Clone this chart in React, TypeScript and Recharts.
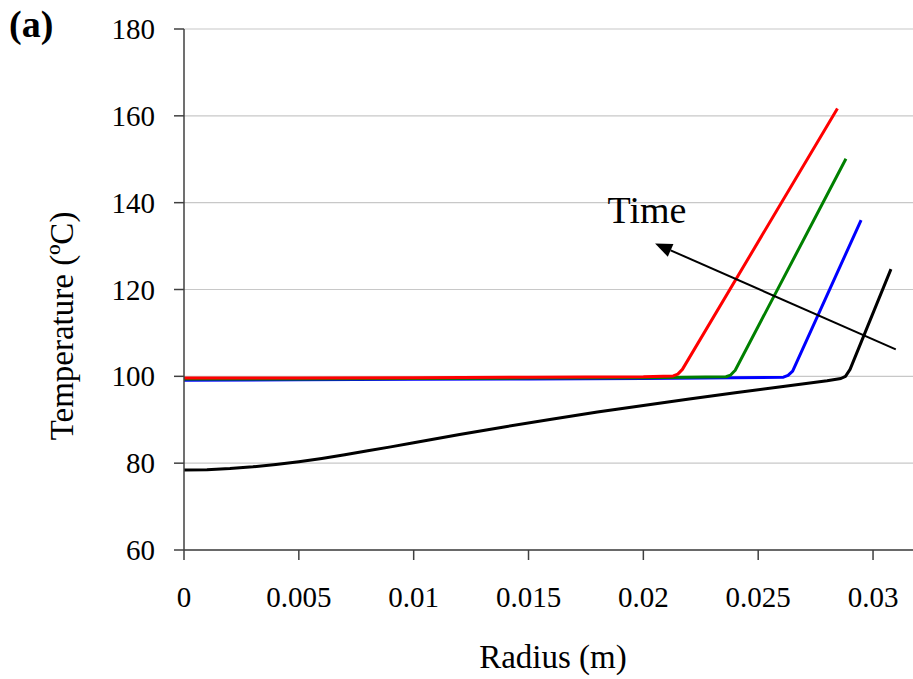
import { LineChart, Line, XAxis, YAxis, CartesianGrid, ReferenceLine, ReferenceDot } from 'recharts';

// radial temperature profiles at successive times (m, °C)
const RED_R = [0, 0.005, 0.01, 0.015, 0.02, 0.0213, 0.0215, 0.0217, 0.02845];
const RED_T = [99.6, 99.6, 99.7, 99.8, 99.9, 100.1, 100.5, 101.6, 161.7];

const GREEN_R = [0, 0.005, 0.01, 0.015, 0.02, 0.0236, 0.0238, 0.024, 0.02882];
const GREEN_T = [99.4, 99.4, 99.5, 99.6, 99.7, 99.9, 100.3, 101.4, 150.1];

const BLUE_R = [0, 0.005, 0.01, 0.015, 0.02, 0.0261, 0.0263, 0.0265, 0.02948];
const BLUE_T = [99.1, 99.2, 99.3, 99.4, 99.5, 99.8, 100.2, 101.2, 136.0];

const BLACK_R = [
  0, 0.001, 0.002, 0.003, 0.004, 0.005, 0.006, 0.007, 0.008, 0.009, 0.01, 0.012, 0.014, 0.016, 0.018, 0.02, 0.022,
  0.024, 0.026, 0.028, 0.0286, 0.0288, 0.029, 0.03078,
];
const BLACK_T = [
  78.4, 78.5, 78.75, 79.15, 79.7, 80.35, 81.1, 81.95, 82.85, 83.75, 84.7, 86.6, 88.4, 90.1, 91.8, 93.3, 94.8, 96.2,
  97.6, 99.0, 99.5, 100.0, 101.6, 124.7,
];

const X_TICKS = [0, 0.005, 0.01, 0.015, 0.02, 0.025, 0.03];
const Y_TICKS = [60, 80, 100, 120, 140, 160, 180];

// "Time" arrow, tail -> head
const ARROW_FROM = { x: 0.03099, y: 106.2 };
const ARROW_TO = { x: 0.02051, y: 130.6 };
const TIME_LABEL_AT = { x: 0.02016, y: 138.4 };

const FONT = 'Liberation Serif';

const toRows = (xs: number[], ys: number[]) => xs.map((r, i) => ({ r, t: ys[i] }));

const SERIES = [
  { key: 'black', color: '#000000', rows: toRows(BLACK_R, BLACK_T) },
  { key: 'blue', color: '#0000ff', rows: toRows(BLUE_R, BLUE_T) },
  { key: 'green', color: '#008000', rows: toRows(GREEN_R, GREEN_T) },
  { key: 'red', color: '#ff0000', rows: toRows(RED_R, RED_T) },
];

function ArrowShape(props: any) {
  const { x1, y1, x2, y2 } = props;
  const ang = Math.atan2(y2 - y1, x2 - x1);
  const len = 17;
  const half = 7;
  const bx = x2 - len * Math.cos(ang);
  const by = y2 - len * Math.sin(ang);
  const ox = -Math.sin(ang) * half;
  const oy = Math.cos(ang) * half;
  return (
    <g>
      <line x1={x1} y1={y1} x2={bx} y2={by} stroke="#000" strokeWidth={2} />
      <polygon points={`${x2},${y2} ${bx + ox},${by + oy} ${bx - ox},${by - oy}`} fill="#000" />
    </g>
  );
}

function XTick(props: any) {
  const { x, y, payload } = props;
  return (
    <text x={x} y={y} dy={41} textAnchor="middle" fontSize={29} fill="#000" style={{ fontFamily: FONT }}>
      {String(payload.value)}
    </text>
  );
}

function YTick(props: any) {
  const { x, y, payload } = props;
  return (
    <text x={x} y={y} dy={10} textAnchor="end" fontSize={29} fill="#000" style={{ fontFamily: FONT }}>
      {payload.value}
    </text>
  );
}

export default function App() {
  return (
    <div style={{ position: 'absolute', left: 0, top: 0, width: 913, height: 679, background: '#fff' }}>
      <div style={{ position: 'absolute', left: 9, top: 2, fontSize: 38, fontWeight: 'bold', fontFamily: FONT }}>(a)</div>
      <LineChart width={913} height={679} margin={{ top: 29, right: 0, left: 0, bottom: 0 }}>
        <CartesianGrid vertical={false} stroke="#c8c8c8" strokeWidth={1.2} />
        <XAxis
          type="number"
          dataKey="r"
          domain={[0, 0.03174]}
          allowDataOverflow
          ticks={X_TICKS}
          height={129}
          stroke="#404040"
          strokeWidth={1.5}
          tickSize={10}
          tickMargin={6}
          tick={<XTick />}
          label={{
            content: () => (
              <text x={553} y={668} textAnchor="middle" fontSize={33} style={{ fontFamily: FONT }} fill="#000">
                Radius (m)
              </text>
            ),
          }}
        />
        <YAxis
          type="number"
          dataKey="t"
          domain={[60, 180]}
          ticks={Y_TICKS}
          width={184}
          stroke="#404040"
          strokeWidth={1.5}
          tickSize={10}
          tickMargin={19}
          tick={<YTick />}
          label={{
            content: () => (
              <text x={73} y={326} transform="rotate(-90 73 326)" textAnchor="middle" fontSize={33} style={{ fontFamily: FONT }} fill="#000">
                Temperature (ºC)
              </text>
            ),
          }}
        />
        {SERIES.map((s) => (
          <Line
            key={s.key}
            data={s.rows}
            dataKey="t"
            type="linear"
            stroke={s.color}
            strokeWidth={3}
            strokeLinejoin="round"
            dot={false}
            activeDot={false}
            isAnimationActive={false}
          />
        ))}
        <ReferenceLine segment={[ARROW_FROM, ARROW_TO]} shape={ArrowShape} ifOverflow="visible" />
        <ReferenceDot
          x={TIME_LABEL_AT.x}
          y={TIME_LABEL_AT.y}
          r={0}
          fill="none"
          stroke="none"
          label={{
            content: (p: any) => (
              <text x={p.viewBox.x} y={p.viewBox.y} dy={13} textAnchor="middle" fontSize={38} style={{ fontFamily: FONT }} fill="#000">
                Time
              </text>
            ),
          }}
        />
      </LineChart>
    </div>
  );
}
